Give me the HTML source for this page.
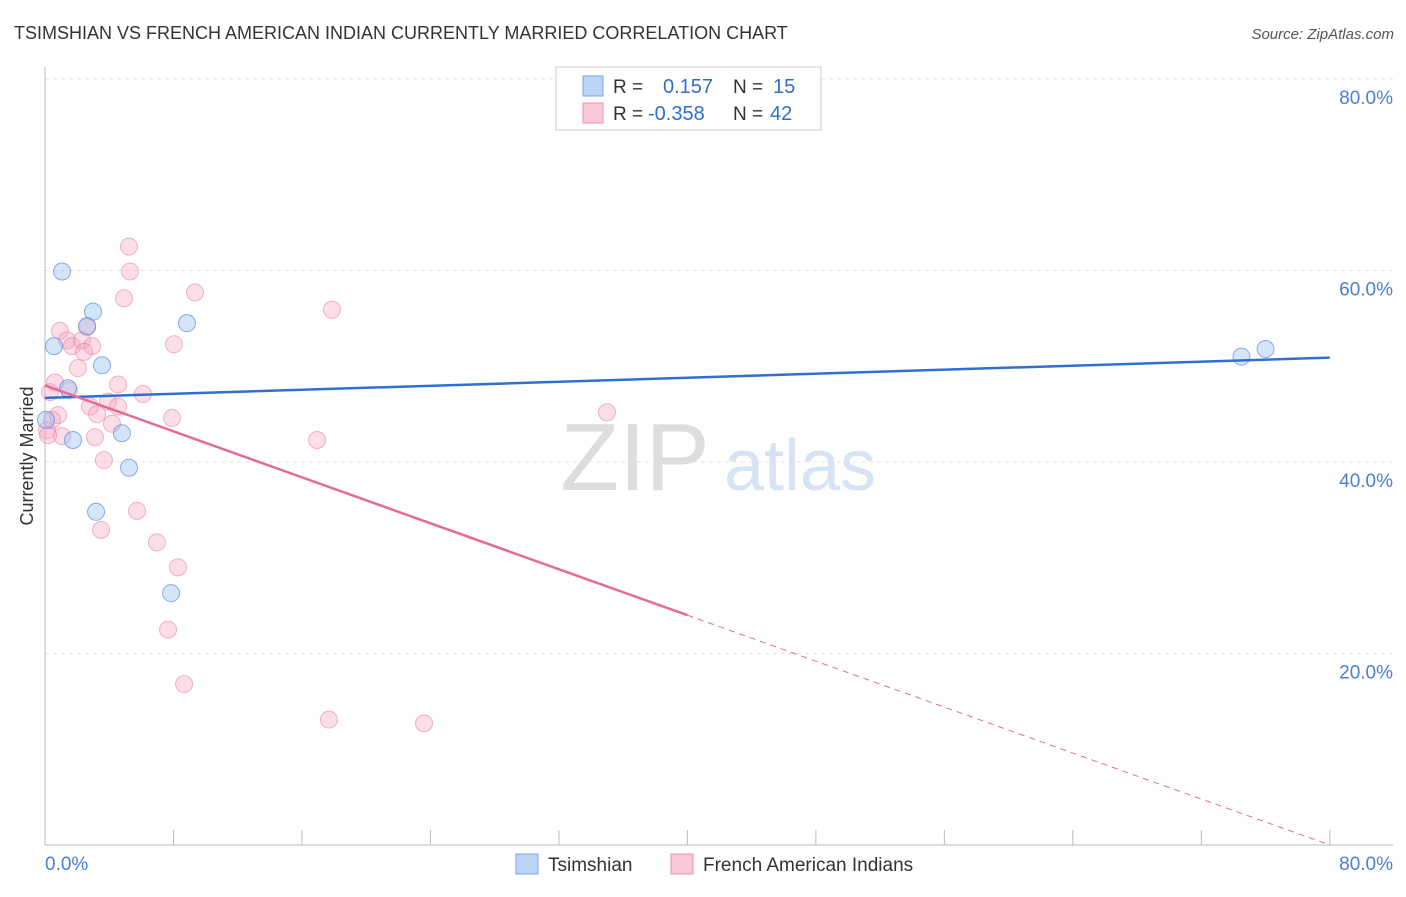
<!DOCTYPE html>
<html><head><meta charset="utf-8"><style>
body{margin:0;background:#fff;font-family:"Liberation Sans",sans-serif}
svg text{font-family:"Liberation Sans",sans-serif}
</style></head><body>
<svg id="c" width="1406" height="892">
<text x="14" y="39" font-size="18" fill="#333">TSIMSHIAN VS FRENCH AMERICAN INDIAN CURRENTLY MARRIED CORRELATION CHART</text>
<text x="1394" y="39" font-size="15" fill="#555" font-style="italic" text-anchor="end">Source: ZipAtlas.com</text>
<text x="33" y="456" font-size="18" fill="#333" text-anchor="middle" transform="rotate(-90 33 456)">Currently Married</text>
<text x="635" y="490" font-size="96" fill="#ddd" font-family="Liberation Serif" text-anchor="middle">ZIP</text>
<text x="800" y="490" font-size="72" fill="#d5e3f5" text-anchor="middle">atlas</text>
<g id="grid"></g><g id="marks"></g>
<g>
<rect x="556" y="67" width="265" height="63" fill="#fff" stroke="#ccc"/>
<rect x="583" y="76" width="20" height="20" fill="#bcd4f6" stroke="#7aa6e8"/>
<rect x="583" y="103" width="20" height="20" fill="#fbc8d8" stroke="#ef8fb0"/>
<text x="613" y="93" font-size="19" fill="#333">R = </text><text x="663" y="93" font-size="20" fill="#2f6fd0">0.157</text>
<text x="733" y="93" font-size="19" fill="#333">N = </text><text x="773" y="93" font-size="20" fill="#2f6fd0">15</text>
<text x="613" y="120" font-size="19" fill="#333">R = </text><text x="648" y="120" font-size="20" fill="#2f6fd0">-0.358</text>
<text x="733" y="120" font-size="19" fill="#333">N = </text><text x="770" y="120" font-size="20" fill="#2f6fd0">42</text>
</g>
<g>
<rect x="516" y="854" width="22" height="20" fill="#bcd4f6" stroke="#7aa6e8"/>
<text x="548" y="871" font-size="19" fill="#333">Tsimshian</text>
<rect x="671" y="854" width="22" height="20" fill="#fbc8d8" stroke="#ef8fb0"/>
<text x="703" y="871" font-size="19" fill="#333">French American Indians</text>
</g>
</svg>
<script>
const yTicks=[20,40,60,80];
const yTickLabels=["20.0%","40.0%","60.0%","80.0%"];
const blueX=[1.06,0.56,2.99,2.62,8.84,3.55,1.43,0.06,1.74,4.79,5.23,3.18,7.85,74.5,76.0];
const blueY=[59.9,52.1,55.7,54.2,54.5,50.1,47.7,44.4,42.3,43.0,39.4,34.8,26.3,51.0,51.8];
const pinkX=[5.23,5.29,4.92,9.34,17.87,0.93,2.62,1.37,1.68,2.30,2.93,2.43,8.03,2.05,0.62,4.55,1.49,0.31,6.10,2.80,3.92,4.55,0.81,3.24,4.17,7.91,0.12,1.06,3.11,16.94,3.67,34.99,5.73,3.49,6.97,8.28,7.66,8.66,17.68,23.6,0.19,0.44];
const pinkY=[62.5,59.9,57.1,57.7,55.9,53.7,54.1,52.7,52.1,52.7,52.1,51.5,52.3,49.8,48.3,48.1,47.5,47.3,47.1,45.8,46.3,45.8,44.9,45.0,44.0,44.6,43.3,42.7,42.6,42.3,40.2,45.2,34.9,32.9,31.6,29.0,22.5,16.8,13.1,12.7,42.8,44.4];
const blueLine=[46.7,50.9];
const pinkLine=[48.0,0];
const pinkSolidEnd=40;
const NS="http://www.w3.org/2000/svg";
const X=v=>45+v*16.06, Y=v=>845-v*9.575;
function mk(t,a,p){const e=document.createElementNS(NS,t);for(const k in a)e.setAttribute(k,a[k]);p.appendChild(e);return e;}
const g=document.getElementById('grid'),m=document.getElementById('marks');
yTicks.forEach((t,i)=>{
 const l=mk('line',{x1:45,x2:1393,y1:Y(t),y2:Y(t),stroke:'#e3e3e3','stroke-dasharray':'4,4'},g);
 
 
 const tx=mk('text',{x:1393,y:Y(t)+25,'font-size':19,fill:'#4a7fd4','text-anchor':'end'},g);
 tx.textContent=yTickLabels[i];
 
 
});
mk('line',{x1:45,x2:45,y1:67,y2:845,stroke:'#bbb'},g);
mk('line',{x1:45,x2:1393,y1:845,y2:845,stroke:'#bbb'},g);
for(let i=0;i<=10;i++){const t=mk('line',{x1:X(i*8),x2:X(i*8),y1:830,y2:845,stroke:'#bbb'},g);
 
 }
let a=mk('text',{x:45,y:870,'font-size':19,fill:'#4a7fd4'},g);a.textContent='0.0%';


a=mk('text',{x:1393,y:870,'font-size':19,fill:'#4a7fd4','text-anchor':'end'},g);a.textContent='80.0%';


pinkX.forEach((x,i)=>{const c=mk('circle',{cx:X(x),cy:Y(pinkY[i]),r:8.5,fill:'rgba(246,160,188,0.35)',stroke:'rgba(236,130,165,0.6)'},m);
 
 });
blueX.forEach((x,i)=>{const c=mk('circle',{cx:X(x),cy:Y(blueY[i]),r:8.5,fill:'rgba(150,190,240,0.4)',stroke:'rgba(90,140,220,0.7)'},m);
 
 });
let l=mk('line',{x1:X(0),y1:Y(blueLine[0]),x2:X(80),y2:Y(blueLine[1]),stroke:'#2f6fd0','stroke-width':2.5},m);


const py=v=>pinkLine[0]+(pinkLine[1]-pinkLine[0])*v/80;
l=mk('line',{x1:X(0),y1:Y(py(0)),x2:X(pinkSolidEnd),y2:Y(py(pinkSolidEnd)),stroke:'#e56a98','stroke-width':2.5},m);


l=mk('line',{x1:X(pinkSolidEnd),y1:Y(py(pinkSolidEnd)),x2:X(80),y2:Y(py(80)),stroke:'#e56a98','stroke-width':1,'stroke-dasharray':'6,5'},m);


</script>
</body></html>
